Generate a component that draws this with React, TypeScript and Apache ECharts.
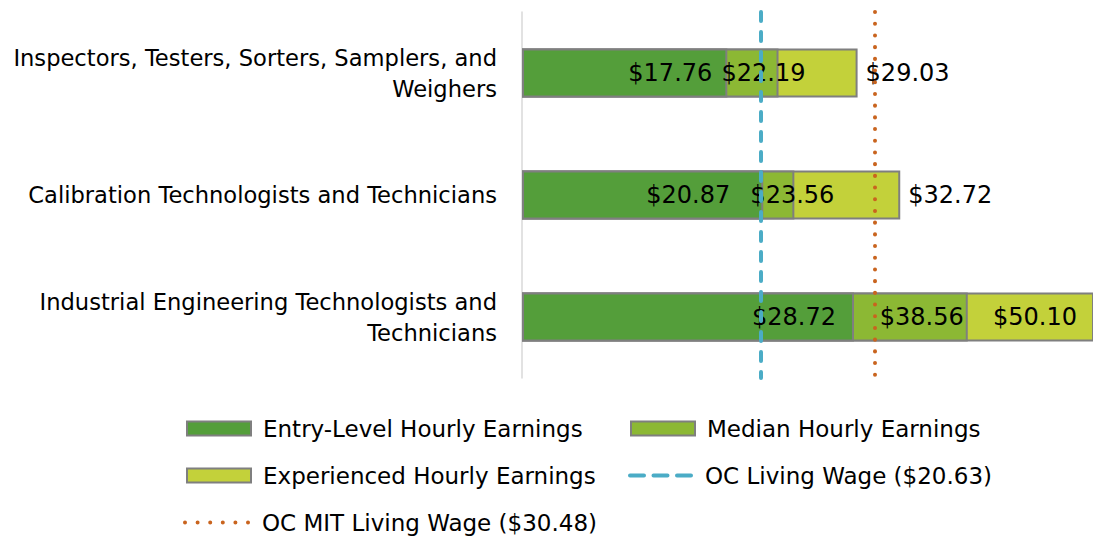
import React, { useEffect, useRef } from "react";
import * as echarts from "echarts";

const categories = [
  "Inspectors, Testers, Sorters, Samplers, and\nWeighers",
  "Calibration Technologists and Technicians",
  "Industrial Engineering Technologists and\nTechnicians",
];
const entryLevel = [17.76, 20.87, 28.72];
const median = [22.19, 23.56, 38.56];
const experienced = [29.03, 32.72, 50.1];
const livingWage = 20.63;
const mitLivingWage = 30.48;

const seriesNames = [
  "Entry-Level Hourly Earnings",
  "Median Hourly Earnings",
  "Experienced Hourly Earnings",
  "OC Living Wage ($20.63)",
  "OC MIT Living Wage ($30.48)",
];

const FONT = "DejaVu Sans";

function dashIcon(): string {
  const segs = [
    [0, 18],
    [23.5, 41.5],
    [47, 65],
  ];
  return (
    "path://" +
    segs
      .map(
        ([a, b]) =>
          `M${a + 2},0 L${b - 2},0 A2,2 0 0 1 ${b - 2},4 L${a + 2},4 A2,2 0 0 1 ${a + 2},0 Z`
      )
      .join(" ")
  );
}

function dotIcon(): string {
  const xs = [0, 12.6, 25.2, 37.8, 50.4, 63];
  return (
    "path://" +
    xs.map((x) => `M${x},2 A2,2 0 1 0 ${x + 4},2 A2,2 0 1 0 ${x},2 Z`).join(" ")
  );
}

export default function App() {
  const ref = useRef<HTMLDivElement>(null);
  useEffect(() => {
    if (!ref.current) return;
    const chart = echarts.init(ref.current, null, { renderer: "svg" });
    const fmt = (p: any) => "$" + Number(p.value).toFixed(2);
    const labelBase = {
      show: true,
      color: "#000",
      fontSize: 24,
      fontFamily: FONT,
      formatter: fmt,
    };
    const entryOffsets = [-10, -28, -13];
    const medianOffsets = [32, 45, 1];
    const border = { borderColor: "#7F7F7F", borderWidth: 2 };

    const legendLayout = [
      { name: seriesNames[0], left: 186, top: 417, w: 64, h: 14, icon: "rect" },
      { name: seriesNames[1], left: 630, top: 417, w: 64, h: 14, icon: "rect" },
      { name: seriesNames[2], left: 186, top: 464, w: 64, h: 14, icon: "rect" },
      { name: seriesNames[3], left: 628, top: 464, w: 65, h: 4, icon: dashIcon() },
      { name: seriesNames[4], left: 183, top: 511, w: 67, h: 4, icon: dotIcon() },
    ];

    chart.setOption({
      animation: false,
      textStyle: { fontFamily: FONT },
      grid: { left: 522, right: 0, top: 12, bottom: 162 },
      legend: legendLayout.map((l) => ({
        data: [{ name: l.name, icon: l.icon }],
        left: l.left,
        top: l.top,
        itemWidth: l.w,
        itemHeight: l.h,
        padding: 0,
        textStyle: { fontSize: 23, color: "#000", fontFamily: FONT, padding: [0, 0, 0, 7] },
      })),
      xAxis: {
        type: "value",
        min: 0,
        max: (1093 - 522) / 11.56,
        show: false,
        splitLine: { show: false },
      },
      yAxis: {
        type: "category",
        data: categories,
        inverse: true,
        axisLine: { show: true, lineStyle: { color: "#D9D9D9", width: 1.5 } },
        axisTick: { show: false },
        axisLabel: {
          color: "#000",
          fontSize: 22.6,
          fontFamily: FONT,
          margin: 25,
          align: "right",
          lineHeight: 31,
        },
      },
      series: [
        {
          name: seriesNames[2],
          type: "bar",
          barWidth: 49,
          barGap: "-100%",
          itemStyle: { color: "#C3D13A", ...border },
          data: experienced.map((v, i) => ({
            value: v,
            label:
              i < 2
                ? { ...labelBase, position: "right", distance: 8 }
                : { ...labelBase, position: "insideRight", distance: 0, offset: [-17, 0] },
          })),
          z: 2,
        },
        {
          name: seriesNames[1],
          type: "bar",
          barWidth: 49,
          barGap: "-100%",
          itemStyle: { color: "#8CB834", ...border },
          data: median.map((v, i) => ({
            value: v,
            label: { ...labelBase, position: "insideRight", distance: 5, offset: [medianOffsets[i], 0] },
          })),
          z: 2,
        },
        {
          name: seriesNames[0],
          type: "bar",
          barWidth: 49,
          barGap: "-100%",
          itemStyle: { color: "#549E3A", ...border },
          data: entryLevel.map((v, i) => ({
            value: v,
            label: { ...labelBase, position: "insideRight", distance: 5, offset: [entryOffsets[i], 0] },
          })),
          z: 2,
        },
        {
          name: seriesNames[3],
          type: "line",
          data: [],
          symbol: "none",
          itemStyle: { color: "#4BACC6" },
          lineStyle: { color: "#4BACC6", width: 4, type: [9, 11], cap: "round" },
          z: 10,
          markLine: {
            silent: true,
            symbol: "none",
            label: { show: false },
            lineStyle: { color: "#4BACC6", width: 4, type: [9, 11], cap: "round" },
            data: [{ xAxis: livingWage }],
          },
        },
        {
          name: seriesNames[4],
          type: "line",
          data: [],
          symbol: "none",
          itemStyle: { color: "#C9641E" },
          lineStyle: { color: "#C9641E", width: 4, type: [0.1, 11.6], cap: "round" },
          z: 10,
          markLine: {
            silent: true,
            symbol: "none",
            label: { show: false },
            lineStyle: { color: "#C9641E", width: 4, type: [0.1, 11.6], cap: "round" },
            data: [{ xAxis: mitLivingWage }],
          },
        },
      ],
    });
    return () => chart.dispose();
  }, []);
  return (
    <div
      ref={ref}
      style={{ position: "absolute", left: 0, top: 0, width: 1093, height: 540 }}
    />
  );
}
